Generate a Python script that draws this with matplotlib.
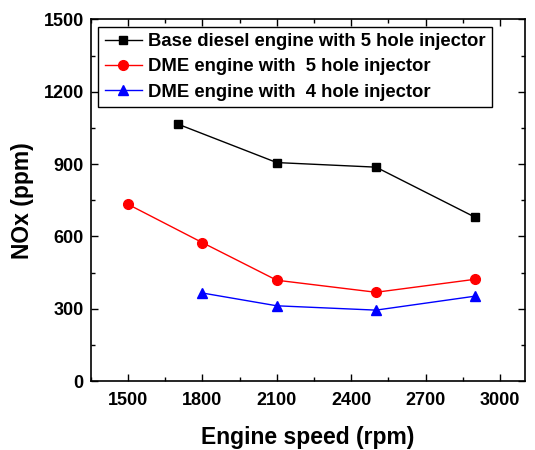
import matplotlib.pyplot as plt
from matplotlib.ticker import MultipleLocator

plt.rcParams['font.family'] = ['Liberation Sans', 'DejaVu Sans']
plt.rcParams['font.weight'] = 'bold'

# Dados
rpm_diesel = [1700, 2100, 2500, 2900]
nox_diesel = [1066, 906, 887, 679]

rpm_dme5 = [1500, 1800, 2100, 2500, 2900]
nox_dme5 = [733, 574, 418, 368, 422]

rpm_dme4 = [1800, 2100, 2500, 2900]
nox_dme4 = [365, 312, 294, 352]

fig = plt.figure(figsize=(5.35, 4.5), dpi=100)
ax = fig.add_axes([0.1696, 0.1533, 0.8114, 0.8037])

ax.plot(rpm_diesel, nox_diesel, color='black', marker='s', markersize=6, linewidth=1,
        label='Base diesel engine with 5 hole injector')
ax.plot(rpm_dme5, nox_dme5, color='red', marker='o', markersize=7, linewidth=1,
        label='DME engine with  5 hole injector')
ax.plot(rpm_dme4, nox_dme4, color='blue', marker='^', markersize=7, linewidth=1,
        label='DME engine with  4 hole injector')

ax.set_xlim(1350, 3100)
ax.set_ylim(0, 1500)
ax.xaxis.set_major_locator(MultipleLocator(300))
ax.xaxis.set_minor_locator(MultipleLocator(150))
ax.yaxis.set_major_locator(MultipleLocator(300))
ax.yaxis.set_minor_locator(MultipleLocator(150))
ax.set_xticks([1500, 1800, 2100, 2400, 2700, 3000])

ax.tick_params(which='both', direction='in', top=True, right=True, width=1)
ax.tick_params(which='major', length=5, labelsize=13)
ax.tick_params(axis='x', which='major', pad=8)
ax.tick_params(axis='y', which='major', pad=5)
ax.tick_params(which='minor', length=3)
for lab in ax.get_xticklabels() + ax.get_yticklabels():
    lab.set_fontweight('bold')
for s in ax.spines.values():
    s.set_linewidth(1.2)

ax.set_xlabel('Engine speed (rpm)', fontsize=16.5, fontweight='bold', labelpad=12)
ax.set_ylabel('NOx (ppm)', fontsize=16.5, fontweight='bold', labelpad=7)

leg = ax.legend(loc='upper left', bbox_to_anchor=(0.005, 0.995), fontsize=13.3,
                fancybox=False, edgecolor='black', framealpha=1,
                borderpad=0.35, labelspacing=0.45, handlelength=2.0, handletextpad=0.35,
                borderaxespad=0.3)
leg.get_frame().set_linewidth(1)
for t in leg.get_texts():
    t.set_fontweight('bold')

fig.savefig('out.png', dpi=100)
